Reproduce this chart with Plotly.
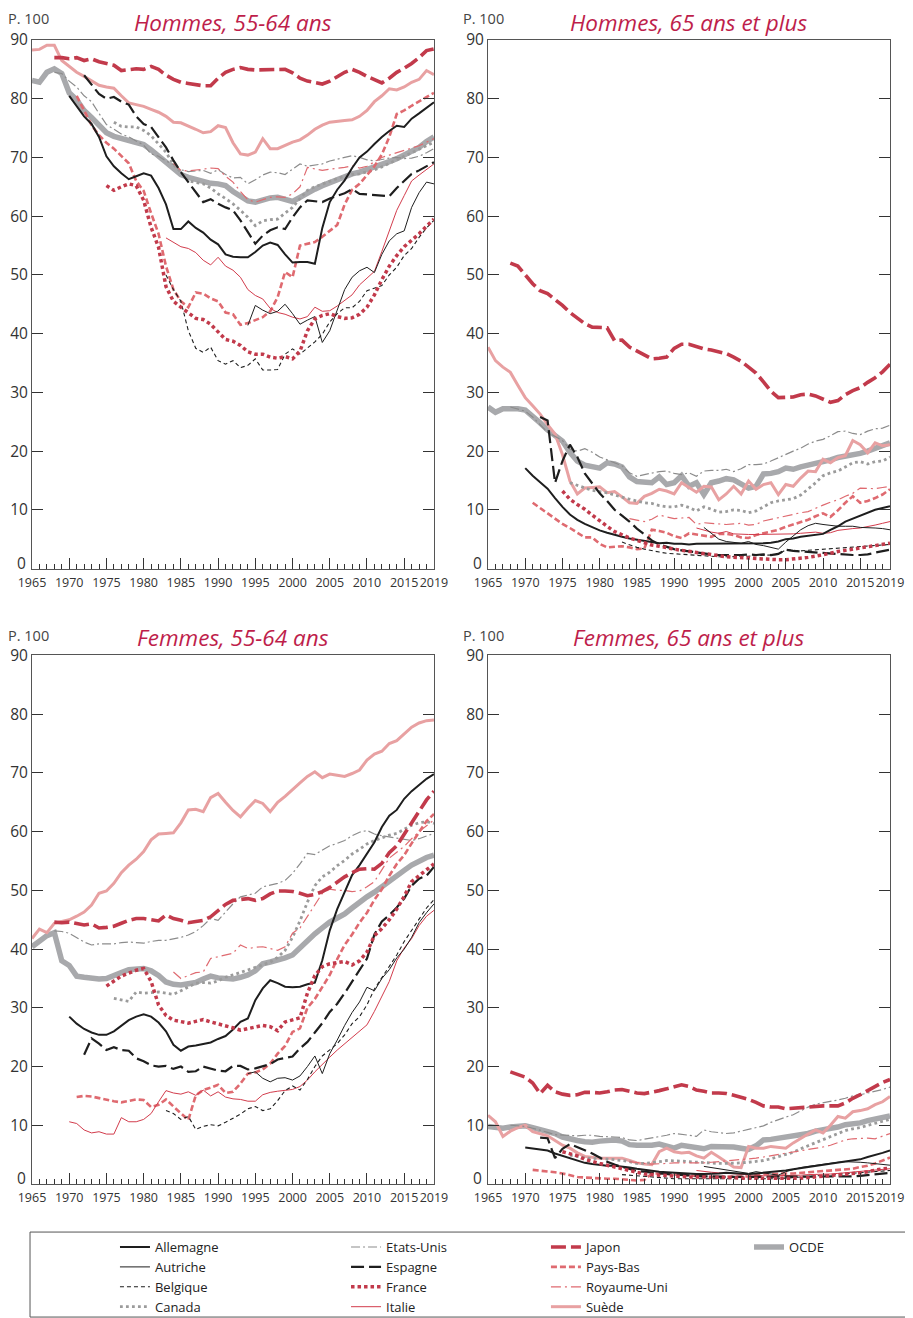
import plotly.graph_objects as go
from plotly.subplots import make_subplots

# Every series runs up to 2019; a shorter list simply starts later.
YEARS = list(range(1965, 2020))
X_TICKS = [1965, 1970, 1975, 1980, 1985, 1990, 1995, 2000, 2005, 2010, 2015, 2019]
Y_TICKS = [0, 10, 20, 30, 40, 50, 60, 70, 80, 90]

COUNTRIES = ["Allemagne", "Autriche", "Belgique", "Canada",
             "Etats-Unis", "Espagne", "France", "Italie",
             "Japon", "Pays-Bas", "Royaume-Uni", "Suède", "OCDE"]

PANEL_TITLES = ["Hommes, 55-64 ans", "Hommes, 65 ans et plus",
                "Femmes, 55-64 ans", "Femmes, 65 ans et plus"]

# Taux d'emploi, p. 100
HOMMES_55_64 = {
    "Allemagne": [80.5, 78.8, 77.0, 75.7, 73.5, 70.2, 68.5, 67.3, 66.3, 66.8,
                  67.3, 66.9, 64.8, 62.0, 57.8, 57.8, 59.1, 58.0, 57.2, 56.0,
                  55.2, 53.5, 53.1, 53.0, 53.0, 53.9, 55.0, 55.5, 55.1, 53.5,
                  52.1, 52.2, 52.2, 51.9, 58.0, 62.4, 64.5, 66.1, 68.2, 70.0,
                  71.0, 72.3, 73.5, 74.5, 75.4, 75.2, 76.6, 77.5, 78.4, 79.4],
    "Autriche": [41.4, 44.8, 44.0, 43.4, 43.8, 45.0,
                 43.4, 41.6, 42.3, 42.9, 38.5, 40.5, 44.0, 47.5, 49.6, 50.7,
                 51.3, 50.4, 53.5, 55.8, 57.0, 57.5, 61.5, 64.0, 65.8, 65.5],
    "Belgique": [50.0, 47.5,
                 45.5, 40.5, 37.5, 36.8, 37.7, 35.4, 34.8, 35.4, 34.2, 34.6,
                 35.7, 33.8, 33.8, 33.9, 36.5, 37.4, 36.5, 37.5, 38.6, 39.9,
                 42.0, 43.4, 44.4, 44.4, 45.5, 47.3, 47.8, 48.2, 50.0, 51.3,
                 53.3, 54.5, 56.4, 58.0, 59.3],
    "Canada": [76.0, 75.3, 75.2, 75.2,
               74.6, 73.7, 72.3, 70.9, 68.8, 67.5, 66.0, 65.7, 65.5, 64.8,
               63.8, 63.0, 62.1, 61.0, 59.8, 58.4, 59.2, 59.4, 59.5, 60.5,
               61.5, 63.0, 64.4, 65.0, 65.5, 66.0, 66.4, 66.8, 67.1, 67.2,
               67.5, 67.9, 68.4, 69.0, 69.6, 70.1, 70.7, 71.3, 72.0, 72.6],
    "Etats-Unis": [84.5, 84.3,
                   83.0, 82.0, 80.5, 79.5, 77.5, 75.6, 74.8, 74.0, 73.5, 72.8,
                   72.1, 70.6, 70.2, 69.4, 68.8, 67.9, 67.6, 67.7, 67.8, 67.3,
                   67.9, 67.1, 66.5, 66.6, 65.5, 66.2, 67.0, 67.5, 67.4, 67.1,
                   68.0, 68.9, 68.5, 68.7, 68.9, 69.4, 69.7, 70.1, 70.3, 70.0,
                   69.6, 69.4, 69.7, 69.9, 70.0, 69.8, 69.9, 70.2, 70.8, 71.5],
    "Espagne": [84.0, 82.3, 80.8,
                80.0, 80.3, 79.5, 79.0, 77.0, 75.7, 75.2, 73.5, 71.7, 69.5,
                67.5, 65.8, 64.0, 62.4, 62.9, 62.1, 61.5, 61.0, 59.3, 57.3,
                55.3, 56.7, 57.6, 58.1, 57.8, 59.8, 61.5, 62.7, 62.5, 62.4,
                63.0, 63.4, 63.9, 64.6, 63.8, 63.7, 63.6, 63.6, 63.4, 64.8,
                66.0, 67.2, 67.8, 68.5, 69.2],
    "France": [65.2, 64.4, 65.0, 65.5, 65.2,
               62.7, 58.1, 54.7, 48.0, 45.5, 44.5, 43.6, 42.6, 42.4, 41.6,
               40.3, 39.0, 38.7, 38.0, 36.9, 36.5, 36.5, 36.0, 35.8, 36.1,
               35.7, 37.0, 40.5, 42.5, 43.1, 43.4, 42.9, 42.6, 42.7, 43.3,
               44.5, 46.6, 49.2, 51.5, 53.3, 54.8, 55.9, 57.0, 58.3, 59.5],
    "Italie": [56.3, 55.5,
               54.8, 54.5, 53.8, 52.5, 51.7, 53.0, 51.5, 50.8, 49.6, 47.5,
               46.5, 45.9, 44.3, 43.6, 43.3, 42.8, 42.5, 42.9, 44.5, 43.8,
               43.9, 44.7, 45.7, 46.6, 48.3, 49.5, 50.6, 54.0, 57.5, 61.0,
               63.5, 66.0, 67.0, 68.0, 68.9],
    "Japon": [87.0, 87.0,
              86.8, 87.0, 86.5, 86.8, 86.3, 86.0, 85.7, 84.8, 85.0, 85.1,
              85.0, 85.5, 85.0, 84.0, 83.3, 82.8, 82.6, 82.4, 82.2, 82.2,
              83.5, 84.5, 85.0, 85.3, 85.0, 84.9, 84.9, 85.0, 85.0, 85.0,
              84.4, 83.5, 83.0, 82.8, 82.5, 83.0, 83.8, 84.5, 85.0, 84.5,
              83.8, 83.2, 82.7, 83.5, 84.5, 85.2, 86.0, 87.0, 88.2, 88.5],
    "Pays-Bas": [80.5, 78.0, 75.5, 73.8,
                 72.5, 71.5, 70.3, 69.0, 66.0, 64.3, 60.5, 57.0, 51.5, 47.5,
                 45.5, 44.5, 47.0, 46.8, 46.0, 45.5, 43.6, 43.3, 41.5, 41.8,
                 42.3, 42.8, 43.8, 46.2, 50.5, 49.6, 55.0, 55.3, 55.6, 56.5,
                 57.5, 58.5, 62.0, 64.5, 65.5, 67.0, 68.5, 70.5, 73.5, 77.4,
                 78.0, 78.8, 79.5, 80.3, 81.0],
    "Royaume-Uni": [69.0,
                    67.8, 67.7, 67.8, 68.0, 68.2, 68.1, 66.8, 65.8, 64.2, 62.8,
                    62.4, 62.8, 63.2, 63.3, 63.2, 63.8, 65.0, 68.3, 68.0, 67.8,
                    68.0, 68.1, 68.3, 68.6, 68.2, 68.5, 69.3, 70.0, 70.4, 70.8,
                    71.2, 71.6, 72.0, 72.6, 73.2],
    "Suède": [88.3, 88.4, 89.1, 89.1, 86.5, 85.5, 84.5, 83.8, 83.0, 82.3,
              82.0, 81.8, 80.5, 79.3, 79.0, 78.7, 78.2, 77.7, 77.0, 76.0,
              75.9, 75.4, 74.8, 74.2, 74.4, 75.4, 75.1, 72.5, 70.6, 70.4,
              70.9, 73.2, 71.5, 71.5, 72.1, 72.6, 73.0, 73.8, 74.8, 75.5,
              76.0, 76.2, 76.3, 76.4, 77.0, 78.0, 79.5, 80.5, 81.7, 81.5,
              82.0, 82.8, 83.3, 84.8, 84.1],
    "OCDE": [83.1, 82.8, 84.5, 85.1, 84.3, 81.0, 79.8, 78.0, 76.8, 75.5,
             74.2, 73.6, 73.2, 72.9, 72.6, 72.2, 71.3, 70.3, 69.2, 68.1,
             67.1, 66.6, 66.2, 65.8, 65.6, 65.5, 65.2, 64.2, 63.5, 62.6,
             62.4, 62.8, 63.1, 63.2, 62.9, 62.5, 63.2, 64.0, 64.6, 65.2,
             65.7, 66.3, 66.8, 67.2, 67.5, 67.9, 68.3, 68.8, 69.3, 69.8,
             70.4, 70.9, 71.7, 72.7, 73.5],
}

HOMMES_65_PLUS = {
    "Allemagne": [17.1, 15.8, 14.7, 13.6, 12.0, 10.5, 9.2, 8.3, 7.6, 7.0,
                  6.5, 6.1, 5.7, 5.4, 5.1, 4.9, 4.7, 4.5, 4.3, 4.4,
                  4.2, 4.2, 4.1, 4.2, 4.2, 4.2, 4.2, 4.3, 4.3, 4.2,
                  4.3, 4.3, 4.3, 4.4, 4.6, 5.0, 5.1, 5.4, 5.6, 5.8,
                  5.9, 6.6, 7.2, 8.0, 8.5, 9.0, 9.5, 10.0, 10.3, 10.6],
    "Autriche": [7.0, 6.0, 5.0, 4.6, 4.5, 4.3,
                 4.6, 4.1, 3.9, 3.6, 3.3, 4.5, 5.5, 6.6, 7.3, 7.7,
                 7.5, 7.3, 7.2, 7.2, 7.2, 7.0, 7.0, 6.9, 6.8, 6.6],
    "Belgique": [4.5, 4.0,
                 3.6, 3.3, 3.0, 2.8, 2.6, 2.5, 2.4, 2.3, 2.2, 2.1,
                 2.1, 2.0, 2.0, 2.0, 2.1, 2.1, 2.2, 2.2, 2.3, 2.4,
                 3.2, 3.1, 3.0, 3.1, 3.2, 3.2, 3.3, 3.5, 3.6, 3.7,
                 3.8, 3.9, 4.0, 4.0, 4.1],
    "Canada": [14.6, 14.2, 13.8, 13.3,
               13.1, 12.9, 12.5, 12.1, 11.8, 11.5, 11.2, 11.1, 10.7, 10.5,
               10.5, 10.8, 10.4, 9.8, 10.5, 10.1, 9.6, 9.7, 10.0, 9.9,
               9.5, 9.8, 10.5, 11.2, 11.5, 11.7, 11.9, 12.5, 13.5, 14.6,
               15.8, 16.3, 16.6, 17.3, 18.0, 18.2, 17.8, 18.2, 18.3, 19.0],
    "Etats-Unis": [27.5, 27.2,
                   26.8, 25.8, 24.5, 23.2, 22.5, 21.8, 20.3, 20.0, 20.4, 19.8,
                   19.0, 18.5, 18.0, 17.5, 16.3, 15.7, 16.0, 16.3, 16.5, 16.6,
                   16.2, 16.0, 16.3, 15.7, 16.6, 16.7, 16.7, 16.9, 16.5, 17.0,
                   17.7, 17.7, 17.8, 18.3, 18.9, 19.5, 20.0, 20.5, 21.2, 21.7,
                   22.0, 22.6, 23.3, 23.4, 23.0, 22.8, 23.4, 23.8, 23.9, 24.4],
    "Espagne": [25.8, 25.2, 14.6,
                18.3, 21.1, 19.0, 16.2, 14.6, 12.8, 11.5, 10.0, 9.0, 8.0,
                6.8, 5.8, 4.8, 4.1, 3.7, 3.3, 3.1, 2.9, 2.7, 2.5,
                2.4, 2.3, 2.3, 2.2, 2.3, 2.4, 2.3, 2.4, 2.3, 2.5,
                3.2, 3.0, 2.9, 2.8, 2.7, 2.6, 2.5, 2.5, 2.4, 2.3,
                2.3, 2.4, 2.7, 2.9, 3.2],
    "France": [13.2, 11.8, 10.9, 10.1, 9.1,
               8.1, 7.2, 6.3, 5.7, 5.2, 4.8, 4.4, 4.0, 3.8, 3.5,
               3.3, 3.1, 2.9, 2.7, 2.5, 2.3, 2.1, 2.0, 1.9, 1.9,
               1.8, 1.7, 1.6, 1.5, 1.5, 1.5, 1.6, 1.7, 1.9, 2.1,
               2.3, 2.6, 2.9, 3.1, 3.4, 3.6, 3.8, 4.0, 4.1, 4.3],
    "Italie": [6.9, 6.5,
               6.2, 6.0, 6.3, 5.9, 5.8, 5.8, 5.8, 5.8, 5.8, 5.8,
               5.9, 5.9, 6.0, 6.1, 6.2, 6.0, 6.1, 6.5, 6.7, 6.8,
               6.9, 7.1, 7.4, 7.7, 8.0],
    "Japon": [52.0, 51.5,
              50.0, 48.5, 47.3, 46.8, 45.8, 44.8, 43.6, 42.6, 41.7, 41.1,
              41.1, 41.0, 38.8, 38.9, 37.7, 37.0, 36.3, 35.7, 35.8, 36.0,
              37.5, 38.2, 38.2, 37.8, 37.4, 37.2, 36.9, 36.6, 36.0, 35.3,
              34.3, 33.3, 31.8, 30.2, 29.1, 29.2, 29.2, 29.6, 29.7, 29.4,
              28.9, 28.3, 28.6, 29.6, 30.3, 30.8, 31.7, 32.5, 33.5, 34.8],
    "Pays-Bas": [11.2, 10.3, 9.4, 8.4,
                 7.6, 6.9, 6.1, 5.3, 5.3, 4.2, 3.6, 3.7, 3.8, 3.6,
                 3.3, 3.4, 6.6, 6.4, 6.1, 5.5, 5.2, 6.0, 5.8, 5.6,
                 5.4, 5.9, 5.9, 5.7, 5.3, 5.2, 5.7, 6.0, 6.3, 6.6,
                 7.1, 7.5, 8.0, 8.3, 8.9, 9.4, 8.8, 9.9, 11.2, 12.3,
                 11.2, 11.5, 12.0, 12.6, 13.5],
    "Royaume-Uni": [8.5,
                    8.3, 8.0, 8.4, 9.1, 8.8, 8.5, 8.6, 8.7, 7.5, 7.8,
                    7.7, 7.6, 7.5, 7.6, 7.7, 7.4, 7.5, 8.1, 8.4, 8.7,
                    9.0, 9.3, 9.5, 9.7, 10.3, 10.8, 11.3, 11.7, 12.3, 12.8,
                    13.7, 13.7, 13.6, 13.8, 14.0],
    "Suède": [37.7, 35.4, 34.3, 33.4, 31.2, 29.1, 27.7, 26.3, 24.5, 22.9,
              19.4, 14.9, 12.7, 13.7, 13.8, 13.9, 12.9, 13.1, 12.2, 11.2,
              11.1, 12.3, 12.8, 13.5, 13.2, 12.7, 14.6, 13.8, 13.0, 14.0,
              13.9, 11.7, 12.7, 14.0, 12.7, 14.9, 13.5, 14.3, 14.6, 12.6,
              14.3, 14.0, 15.4, 16.6, 16.5, 18.6, 18.0, 18.9, 19.2, 21.8,
              21.1, 19.7, 21.4, 20.9, 21.1],
    "OCDE": [27.5, 26.6, 27.2, 27.3, 27.2, 27.0, 26.0, 24.8, 23.6, 22.5,
             21.7, 19.8, 18.3, 17.6, 17.3, 17.1, 18.0, 17.8, 17.3, 15.6,
             14.8, 14.6, 14.6, 15.6, 14.3, 14.6, 15.8, 14.0, 14.6, 12.6,
             14.6, 14.9, 15.3, 15.1, 14.5, 13.7, 14.0, 16.1, 16.2, 16.5,
             17.1, 16.9, 17.3, 17.6, 17.8, 18.0, 18.5, 18.9, 19.1, 19.3,
             19.6, 20.0, 20.4, 20.9, 21.4],
}

FEMMES_55_64 = {
    "Allemagne": [28.5, 27.3, 26.4, 25.8, 25.4, 25.4, 26.0, 27.0, 27.9, 28.5,
                  28.9, 28.5, 27.5, 26.0, 23.7, 22.7, 23.4, 23.6, 23.8, 24.1,
                  24.7, 25.2, 26.3, 27.6, 28.2, 31.3, 33.3, 34.7, 34.2, 33.6,
                  33.5, 33.6, 34.0, 34.3, 38.1, 43.2, 46.8, 49.8, 52.6, 54.3,
                  56.2, 58.2, 60.8, 62.7, 63.7, 65.6, 66.9, 68.0, 69.0, 69.8],
    "Autriche": [18.8, 19.1, 18.0, 17.4, 18.0, 18.1,
                 17.7, 18.4, 20.0, 21.8, 18.8, 22.2, 24.5, 27.0, 29.2, 31.0,
                 33.5, 32.9, 35.0, 36.5, 38.5, 40.0, 42.0, 44.5, 46.2, 47.7],
    "Belgique": [12.5, 12.0,
                 11.0, 11.5, 9.3, 9.8, 10.1, 9.9, 10.5, 11.2, 11.9, 12.8,
                 13.2, 12.5, 12.8, 14.2, 15.9, 16.7, 16.0, 17.8, 20.0, 21.8,
                 22.8, 23.9, 25.4, 27.3, 28.5, 30.5, 33.2, 35.2, 37.0, 39.0,
                 41.3, 43.2, 45.2, 47.0, 48.4],
    "Canada": [31.6, 31.4, 31.1, 32.7,
               32.5, 32.6, 32.7, 32.5, 32.3, 32.9, 33.6, 34.2, 34.3, 34.2,
               34.6, 35.2, 35.6, 36.0, 36.5, 36.9, 37.3, 37.8, 38.6, 39.8,
               42.0, 44.8, 48.0, 50.8, 52.3, 53.1, 54.2, 55.1, 56.2, 57.0,
               57.9, 58.5, 59.0, 59.4, 59.7, 60.4, 61.1, 61.5, 61.7, 61.4],
    "Etats-Unis": [43.1, 43.0,
                   42.7, 41.9, 41.2, 40.7, 40.9, 40.9, 40.9, 41.1, 41.2, 41.1,
                   41.0, 41.3, 41.5, 41.5, 41.7, 42.0, 42.4, 43.0, 44.0, 45.2,
                   44.9, 46.3, 47.7, 48.9, 49.2, 49.5, 50.6, 50.9, 51.2, 51.7,
                   52.9, 54.5, 56.3, 56.1, 56.9, 57.6, 58.0, 58.5, 59.3, 59.9,
                   60.2, 59.6, 59.3, 59.1, 58.9, 58.7, 58.5, 58.8, 59.2, 59.7],
    "Espagne": [22.0, 24.8, 23.9,
                22.8, 23.3, 22.8, 22.7, 21.4, 20.9, 20.2, 20.0, 20.1, 19.6,
                20.0, 19.1, 19.2, 20.0, 19.6, 19.3, 19.2, 20.1, 20.1, 19.5,
                19.7, 20.0, 20.4, 21.2, 21.4, 21.7, 23.1, 24.2, 25.8, 27.4,
                29.3, 30.7, 32.5, 34.4, 36.3, 38.4, 42.5, 44.7, 45.8, 47.1,
                48.6, 50.8, 52.0, 52.5, 54.0],
    "France": [33.7, 34.6, 35.4, 35.9, 36.4,
               36.7, 34.5, 30.5, 28.7, 27.9, 27.6, 27.4, 27.7, 28.0, 27.6,
               27.3, 26.9, 26.6, 26.2, 26.5, 26.8, 27.0, 26.8, 26.1, 27.6,
               28.0, 28.3, 32.5, 35.5, 37.0, 37.5, 37.7, 37.9, 37.3, 38.0,
               39.5, 42.3, 43.5, 45.0, 46.8, 49.0, 51.5, 52.5, 53.5, 54.5],
    "Italie": [10.6, 10.3, 9.2, 8.7, 8.9, 8.5, 8.5, 11.3, 10.6, 10.6,
               11.0, 12.0, 14.0, 15.9, 15.5, 15.3, 15.7, 15.1, 16.0, 15.0,
               15.7, 14.8, 14.5, 14.4, 14.1, 14.1, 15.2, 15.6, 15.8, 15.9,
               16.1, 16.6, 17.7, 19.1, 20.4, 21.6, 22.8, 23.9, 25.0, 26.1,
               27.1, 29.4, 31.9, 34.5, 38.0, 40.2, 41.8, 44.0, 45.6, 46.6],
    "Japon": [44.6, 44.5,
              44.6, 44.3, 44.1, 44.3, 43.6, 43.7, 43.9, 44.4, 44.9, 45.2,
              45.2, 45.0, 44.8, 45.8, 45.2, 44.9, 44.5, 44.7, 44.9, 45.5,
              46.5, 47.6, 48.3, 48.5, 48.6, 48.3, 48.6, 49.4, 49.9, 49.9,
              49.8, 49.5, 49.1, 49.3, 49.8, 50.5, 51.4, 52.3, 53.0, 53.6,
              53.7, 53.6, 54.6, 56.4, 57.6, 59.5, 61.5, 63.5, 65.4, 66.9],
    "Pays-Bas": [14.8, 15.0, 14.9, 14.6,
                 14.3, 14.1, 13.9, 14.1, 14.4, 14.3, 13.1, 13.5, 14.4, 13.2,
                 12.0, 10.9, 15.1, 16.0, 16.4, 16.9, 15.5, 15.7, 17.1, 18.8,
                 19.0, 19.5, 20.5, 22.2, 23.5, 25.9, 26.5, 30.0, 31.5, 33.5,
                 35.6, 38.3, 40.7, 42.5, 44.5, 46.2, 48.4, 50.2, 52.5, 54.5,
                 56.0, 58.0, 60.0, 61.8, 63.0],
    "Royaume-Uni": [36.1,
                    35.0, 35.5, 36.0, 36.1, 38.4, 38.7, 39.0, 39.3, 40.7, 40.1,
                    40.3, 40.4, 40.1, 39.8, 40.4, 42.7, 43.6, 45.5, 47.5, 49.5,
                    50.2, 50.0, 50.0, 49.8, 49.9, 50.6, 51.5, 53.5, 55.5, 56.5,
                    57.5, 58.8, 60.0, 61.0, 62.0],
    "Suède": [41.8, 43.4, 42.8, 44.4, 44.7, 45.0, 45.6, 46.3, 47.5, 49.5,
              49.9, 51.2, 53.0, 54.3, 55.3, 56.6, 58.6, 59.6, 59.7, 59.8,
              61.5, 63.7, 63.8, 63.4, 65.8, 66.5, 65.0, 63.6, 62.5, 64.0,
              65.3, 64.8, 63.4, 65.0, 66.0, 67.2, 68.3, 69.4, 70.2, 69.2,
              69.8, 69.6, 69.4, 69.9, 70.5, 72.2, 73.2, 73.7, 75.0, 75.5,
              76.7, 77.8, 78.5, 78.9, 79.0],
    "OCDE": [40.4, 41.4, 42.3, 42.8, 38.0, 37.2, 35.4, 35.2, 35.0, 34.9,
             35.0, 35.4, 36.0, 36.5, 36.7, 36.7, 36.3, 35.5, 34.4, 34.0,
             33.9, 34.0, 34.3, 34.9, 35.4, 35.1, 35.0, 34.9, 35.2, 35.6,
             36.3, 37.5, 37.8, 38.1, 38.5, 39.0, 40.2, 41.7, 42.6, 43.6,
             44.6, 45.3, 46.0, 47.0, 48.0, 48.9, 49.7, 50.7, 51.7, 52.6,
             53.4, 54.3, 55.0, 55.6, 56.0],
}

FEMMES_65_PLUS = {
    "Allemagne": [6.2, 6.0, 5.8, 5.7, 5.2, 4.8, 4.4, 4.0, 3.6, 3.4,
                  3.2, 3.1, 3.1, 3.0, 2.8, 2.6, 2.4, 2.2, 2.1, 2.0,
                  1.9, 1.8, 1.7, 1.7, 1.7, 1.7, 1.8, 1.9, 1.8, 1.7,
                  1.7, 1.8, 1.9, 2.0, 2.1, 2.3, 2.5, 2.7, 2.9, 3.1,
                  3.2, 3.4, 3.6, 3.8, 4.0, 4.2, 4.6, 4.9, 5.3, 5.7],
    "Autriche": [3.0, 2.8, 2.6, 2.4, 2.2, 2.0,
                 1.8, 2.1, 1.9, 1.7, 1.5, 2.1, 2.5, 2.8, 3.0, 3.2,
                 3.3, 3.6, 3.7, 3.8, 3.8, 3.7, 3.6, 3.5, 3.4, 3.2],
    "Belgique": [1.6, 1.5,
                 1.3, 1.2, 1.1, 1.0, 1.0, 0.9, 0.9, 0.9, 0.9, 0.8,
                 0.8, 0.8, 0.8, 0.8, 0.8, 0.8, 0.8, 0.9, 0.9, 0.9,
                 1.0, 1.1, 1.2, 1.3, 1.4, 1.4, 1.5, 1.6, 1.7, 1.8,
                 1.9, 2.0, 2.1, 2.2, 2.3],
    "Canada": [4.9, 4.7, 4.5, 4.3,
               4.4, 4.3, 4.2, 4.0, 3.8, 3.5, 3.5, 3.6, 3.8, 4.0,
               4.0, 3.9, 3.8, 3.7, 3.6, 3.5, 3.5, 3.5, 3.5, 3.6,
               3.7, 3.8, 4.0, 4.3, 4.7, 5.0, 5.4, 6.0, 6.5, 7.1,
               7.6, 8.1, 8.6, 9.1, 9.4, 9.6, 10.0, 10.3, 10.6, 11.0],
    "Etats-Unis": [10.0, 9.9,
                   9.8, 9.5, 9.2, 8.8, 8.4, 8.3, 8.2, 8.2, 8.3, 8.3,
                   8.1, 8.1, 8.0, 7.9, 7.5, 7.4, 7.6, 7.8, 8.0, 8.3,
                   8.6, 8.5, 8.3, 8.1, 9.2, 8.9, 8.7, 8.6, 8.7, 9.0,
                   9.3, 9.6, 9.9, 10.5, 11.0, 11.4, 11.8, 12.5, 13.1, 13.6,
                   13.8, 14.0, 14.3, 14.6, 15.0, 15.2, 15.5, 15.7, 16.1, 16.5],
    "Espagne": [7.9, 7.8, 4.4,
                6.0, 6.8, 6.3, 5.8, 5.2, 4.5, 3.8, 3.3, 2.9, 2.5,
                2.2, 2.1, 1.9, 1.8, 1.7, 1.6, 1.5, 1.5, 1.4, 1.3,
                1.3, 1.2, 1.2, 1.2, 1.2, 1.2, 1.2, 1.2, 1.2, 1.2,
                1.2, 1.3, 1.3, 1.3, 1.3, 1.3, 1.3, 1.3, 1.3, 1.3,
                1.4, 1.5, 1.6, 1.8, 1.9],
    "France": [5.5, 5.2, 4.8, 4.2, 3.8,
               3.5, 3.2, 2.9, 2.6, 2.2, 1.9, 1.7, 1.6, 1.5, 1.4,
               1.3, 1.2, 1.2, 1.2, 1.2, 1.2, 1.1, 1.1, 1.1, 1.0,
               1.0, 1.0, 0.9, 0.9, 0.9, 0.9, 0.9, 1.0, 1.1, 1.2,
               1.3, 1.4, 1.5, 1.6, 1.8, 1.9, 2.1, 2.4, 2.6, 2.7],
    "Italie": [2.3, 2.1,
               2.0, 1.9, 1.8, 1.7, 1.6, 1.5, 1.5, 1.4, 1.4, 1.4,
               1.4, 1.5, 1.5, 1.6, 1.6, 1.6, 1.7, 1.8, 1.9, 2.0,
               2.1, 2.2, 2.3, 2.4, 2.6],
    "Japon": [19.1, 18.6,
              18.2, 17.2, 15.4, 16.8, 15.7, 15.3, 15.1, 15.2, 15.6, 15.6,
              15.5, 15.7, 16.0, 16.1, 15.8, 15.5, 15.4, 15.6, 15.9, 16.2,
              16.5, 16.9, 16.6, 16.0, 15.8, 15.5, 15.5, 15.4, 15.1, 14.8,
              14.4, 13.9, 13.3, 13.1, 13.1, 12.8, 12.9, 13.1, 13.2, 13.2,
              13.3, 13.3, 13.3, 13.8, 14.6, 15.2, 15.9, 16.7, 17.3, 17.8],
    "Pays-Bas": [2.4, 2.3, 2.2, 2.0,
                 1.8, 1.5, 1.2, 1.1, 1.0, 0.9, 0.9, 0.9, 0.8, 0.7,
                 0.6, 0.7, 1.8, 1.8, 1.7, 1.6, 1.5, 1.4, 1.3, 1.3,
                 1.2, 1.2, 1.2, 1.3, 1.3, 1.3, 1.5, 1.7, 1.7, 1.8,
                 1.8, 1.8, 1.9, 2.0, 2.1, 2.2, 2.3, 2.4, 2.4, 2.6,
                 2.9, 3.1, 3.5, 4.0, 4.5],
    "Royaume-Uni": [3.8,
                    3.6, 3.5, 3.4, 3.4, 3.5, 3.6, 3.6, 3.6, 3.5, 3.6,
                    3.7, 3.8, 3.9, 4.0, 4.1, 4.3, 4.4, 4.6, 4.8, 5.0,
                    5.2, 5.4, 5.6, 5.8, 6.1, 6.3, 6.6, 7.0, 7.5, 7.7,
                    7.8, 7.8, 7.7, 8.1, 8.6],
    "Suède": [11.7, 10.6, 8.1, 9.0, 9.6, 10.0, 8.9, 8.5, 8.2, 7.4,
              6.6, 6.1, 5.3, 4.7, 4.5, 4.4, 4.4, 4.4, 4.4, 4.0,
              3.6, 3.4, 3.3, 5.5, 6.1, 5.5, 5.3, 5.4, 4.8, 4.4,
              5.4, 4.6, 3.7, 2.9, 2.8, 6.4, 6.1, 6.1, 6.4, 6.2,
              6.1, 7.0, 7.8, 8.5, 9.2, 8.7, 10.0, 11.5, 11.2, 12.3,
              12.5, 12.8, 13.5, 14.0, 14.9],
    "OCDE": [9.8, 9.6, 9.5, 9.7, 9.9, 9.9, 9.6, 9.3, 9.0, 8.6,
             8.0, 7.6, 7.4, 7.2, 7.1, 7.3, 7.5, 7.5, 7.3, 6.7,
             6.6, 6.5, 6.6, 6.8, 6.4, 6.1, 6.6, 6.4, 6.1, 6.0,
             6.4, 6.4, 6.4, 6.3, 6.1, 5.9, 6.5, 7.5, 7.6, 7.8,
             7.9, 8.0, 8.3, 8.6, 9.0, 9.2, 9.5, 9.7, 10.1, 10.2,
             10.4, 10.8, 11.1, 11.3, 11.6],
}

PANELS = [HOMMES_55_64, HOMMES_65_PLUS, FEMMES_55_64, FEMMES_65_PLUS]

BLACK = "#1e1e1e"
GREY = "#8c8c8c"
CRIMSON = "#c23a4b"
ROSE = "#df6a70"
PINK = "#e8a1a2"
TITLE_RED = "#be1e4b"
TEXT = "#333333"
FONT = "Open Sans, Noto Sans, sans-serif"

STYLE = {
    "Allemagne": dict(color=BLACK, width=2, dash="solid"),
    "Autriche": dict(color=BLACK, width=1, dash="solid"),
    "Belgique": dict(color=BLACK, width=1.1, dash="4px,3px"),
    "Canada": dict(color="#9b9b9b", width=2.8, dash="2.8px,3.2px"),
    "Etats-Unis": dict(color=GREY, width=1.2, dash="9px,3px,2px,3px"),
    "Espagne": dict(color=BLACK, width=2.2, dash="13px,5px"),
    "France": dict(color=CRIMSON, width=3.5, dash="3.5px,3px"),
    "Italie": dict(color="#d23c4c", width=1, dash="solid"),
    "Japon": dict(color=CRIMSON, width=3.6, dash="15px,5px"),
    "Pays-Bas": dict(color=ROSE, width=2.6, dash="6px,3px"),
    "Royaume-Uni": dict(color=ROSE, width=1.2, dash="10px,4px,2px,4px"),
    "Suède": dict(color=PINK, width=3, dash="solid"),
    "OCDE": dict(color="#a8a9ac", width=5.5, dash="solid"),
}

# Back to front; legend order comes from legendrank.
DRAW_ORDER = ["OCDE", "Suède", "Etats-Unis", "Canada", "Royaume-Uni", "Pays-Bas",
              "Italie", "Autriche", "Belgique", "Espagne", "Allemagne", "France", "Japon"]

LEGEND_OF = {}
for col, group in enumerate([COUNTRIES[0:4], COUNTRIES[4:8], COUNTRIES[8:12], COUNTRIES[12:]]):
    for name in group:
        LEGEND_OF[name] = "legend" if col == 0 else f"legend{col + 1}"

fig = make_subplots(rows=2, cols=2, horizontal_spacing=0.063, vertical_spacing=0.076)

for i, panel in enumerate(PANELS):
    row, col = i // 2 + 1, i % 2 + 1
    for name in DRAW_ORDER:
        values = panel[name]
        fig.add_trace(
            go.Scatter(
                x=YEARS[-len(values):],
                y=values,
                mode="lines",
                name=name,
                line=STYLE[name],
                showlegend=(i == 0),
                legend=LEGEND_OF[name],
                legendrank=COUNTRIES.index(name),
                hovertemplate=name + " %{x}: %{y:.1f}<extra></extra>",
            ),
            row=row, col=col,
        )

fig.update_xaxes(
    range=[1965, 2019], tickvals=X_TICKS, tickangle=0, ticks="inside", ticklen=11,
    tickcolor=TEXT, showline=True, linecolor="#555555", linewidth=1,
    mirror=True, showgrid=False, zeroline=False, ticklabelstandoff=2,
    tickfont=dict(family=FONT, size=12.5, color=TEXT),
    minor=dict(tickmode="linear", tick0=1965, dtick=1, ticks="inside",
               ticklen=5, tickcolor=TEXT),
)
# The "0" label sits a little above the axis, as in the original; it is added below.
fig.update_yaxes(
    range=[0, 90], tickvals=Y_TICKS, ticktext=[""] + [str(v) for v in Y_TICKS[1:]],
    ticks="inside", ticklen=11,
    tickcolor=TEXT, showline=True, linecolor="#555555", linewidth=1,
    mirror="ticks", showgrid=False, zeroline=False,
    tickfont=dict(family=FONT, size=15.5, color=TEXT),
)

annotations = []
centres = [(0.2343, 1.0153), (0.7657, 1.0153), (0.2343, 0.4781), (0.7657, 0.4781)]
unit_pos = [(-0.03, 1.0185), (0.5, 1.0185), (-0.03, 0.4795), (0.5, 0.4795)]
for i, (title, (cx, cy), (ux, uy)) in enumerate(zip(PANEL_TITLES, centres, unit_pos)):
    annotations.append(dict(
        text=title, x=cx, y=cy, xref="paper", yref="paper",
        xanchor="center", yanchor="middle", showarrow=False,
        font=dict(family=FONT, size=22.5, color=TITLE_RED, style="italic"),
    ))
    annotations.append(dict(
        text="P. 100", x=ux, y=uy, xref="paper", yref="paper",
        xanchor="left", yanchor="middle", showarrow=False,
        font=dict(family=FONT, size=14.5, color="#444444"),
    ))
    suffix = "" if i == 0 else str(i + 1)
    annotations.append(dict(
        text=str(Y_TICKS[0]), x=0, y=Y_TICKS[0],
        xref=f"x{suffix} domain", yref=f"y{suffix}",
        xanchor="right", yanchor="middle", xshift=-4, yshift=6, showarrow=False,
        font=dict(family=FONT, size=15.5, color=TEXT),
    ))

legend_style = dict(
    y=-0.042, yanchor="top", xanchor="left", bgcolor="rgba(0,0,0,0)",
    font=dict(family=FONT, size=13, color="#222222"),
    tracegroupgap=0, traceorder="normal",
)

# The page adds an 8px body margin, so the figure is 8px smaller than the window.
fig.update_layout(
    width=905, height=1310,
    margin=dict(l=24, r=23, t=32, b=134, autoexpand=False),
    plot_bgcolor="white",
    paper_bgcolor="white",
    annotations=annotations,
    legend=dict(x=0.0967, **legend_style),
    legend2=dict(x=0.366, **legend_style),
    legend3=dict(x=0.599, **legend_style),
    legend4=dict(x=0.8357, **legend_style),
    shapes=[dict(type="rect", xref="paper", yref="paper",
                 x0=-0.0023, x1=1.021, y0=-0.1163, y1=-0.042,
                 line=dict(color="#555555", width=1))],
)

fig.write_html("out.html")
